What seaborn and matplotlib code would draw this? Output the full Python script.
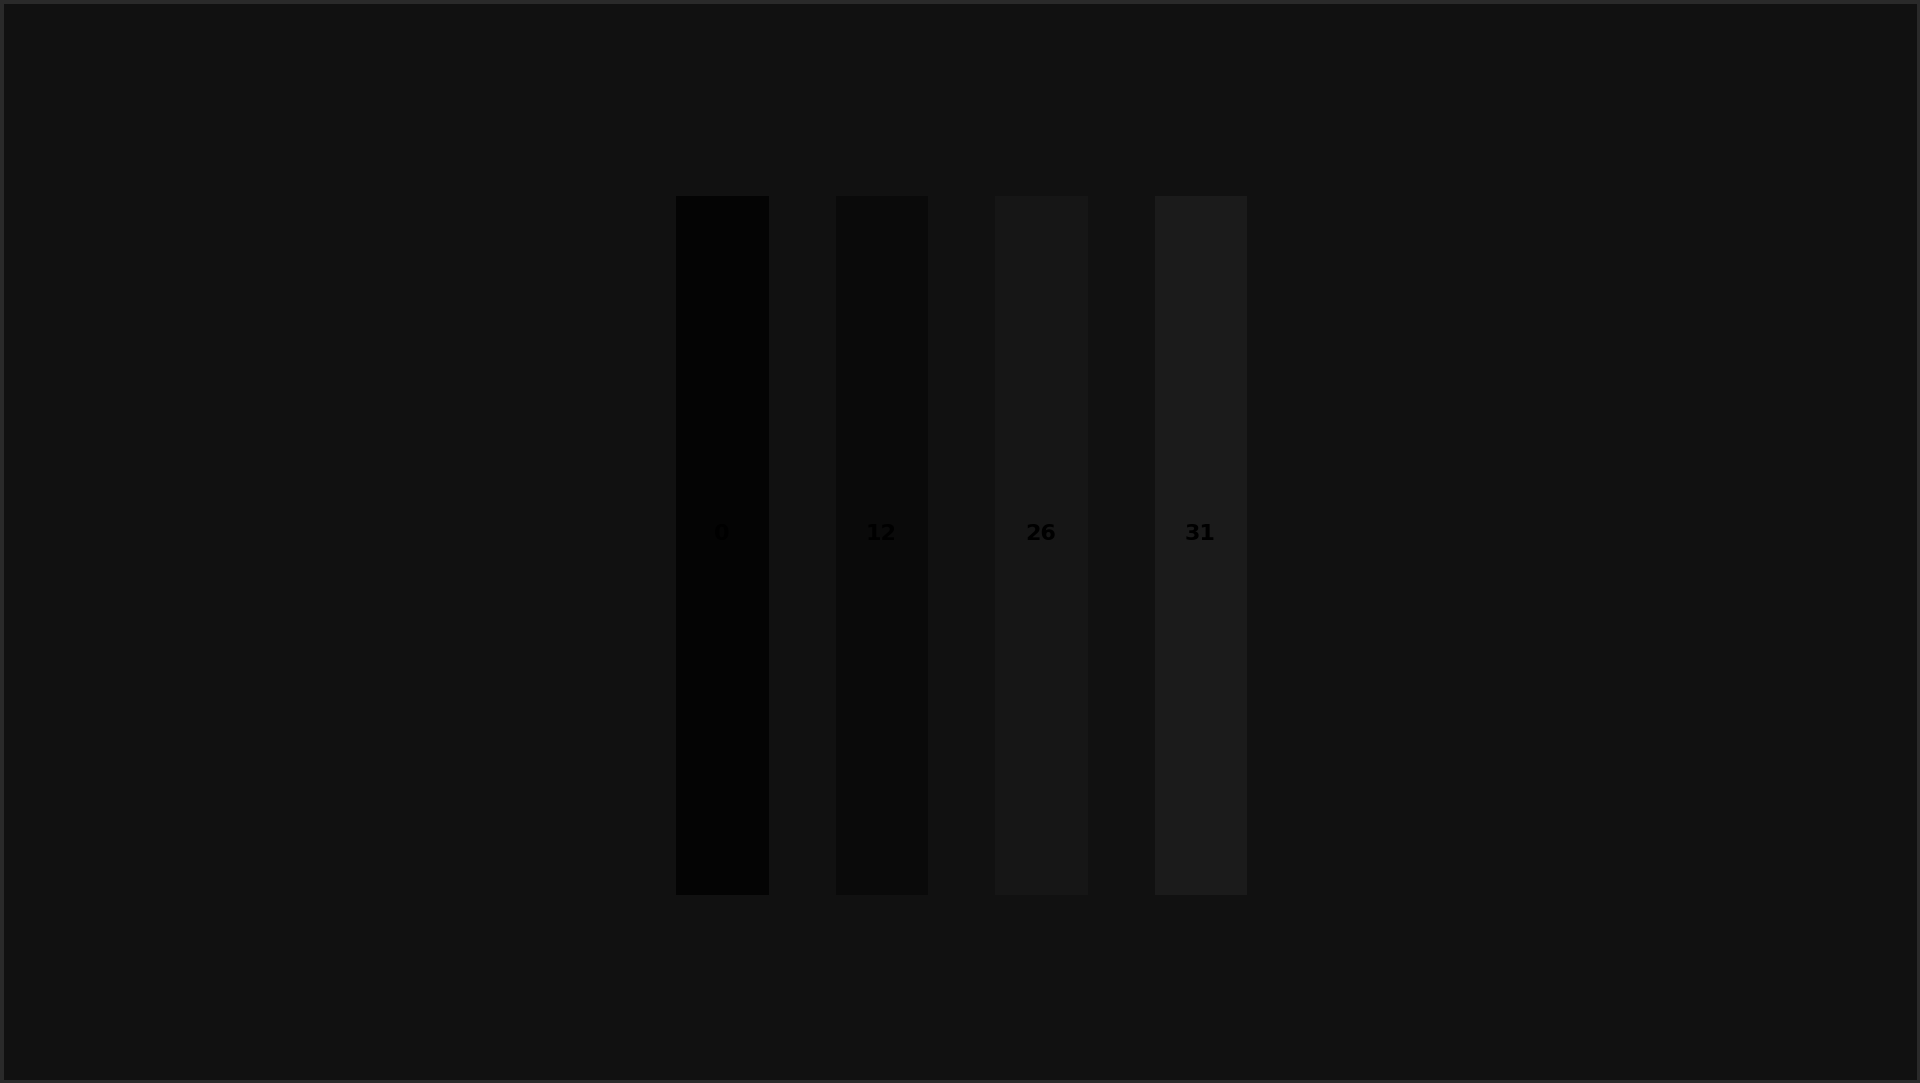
import numpy as np
import pandas as pd
import matplotlib
matplotlib.use('Agg')
import matplotlib.pyplot as plt
import seaborn as sns
from matplotlib.colors import LinearSegmentedColormap

# values (labels are very faint)
categories = ['A', 'B', 'C', 'D']
values = [0, 12, 26, 31]

bg = '#111111'
sns.set_theme(style='white')
plt.rcParams['font.family'] = ['DejaVu Sans']

df = pd.DataFrame([values], columns=categories)

cmap = LinearSegmentedColormap.from_list('dark', ['#040404', '#0c0c0c', '#1d1d1d'])

fig = plt.figure(figsize=(19.2, 10.83), dpi=100, facecolor=bg)
fig.patch.set_edgecolor('#2a2a2a')
fig.patch.set_linewidth(5)

# axes placed so the four cells sit in the middle of the frame
ax = fig.add_axes([642 / 1920, 1 - 928 / 1083, 638 / 1920, 766 / 1083])
ax.set_facecolor(bg)
sns.heatmap(df, ax=ax, cmap=cmap, vmin=0, vmax=33, cbar=False,
            annot=True, fmt='d', linewidths=48, linecolor=bg,
            annot_kws={'color': '#000000', 'fontsize': 16, 'fontweight': 'bold'})
# labels sit a little above the middle in the reference
for t in ax.texts:
    x, y = t.get_position()
    t.set_position((x, y - 0.014))
ax.set_xticks([])
ax.set_yticks([])
ax.set_xlabel('')
ax.set_ylabel('')
for s in ax.spines.values():
    s.set_visible(False)

fig.savefig('out.png', dpi=100, facecolor=fig.get_facecolor(),
            edgecolor=fig.get_edgecolor())
